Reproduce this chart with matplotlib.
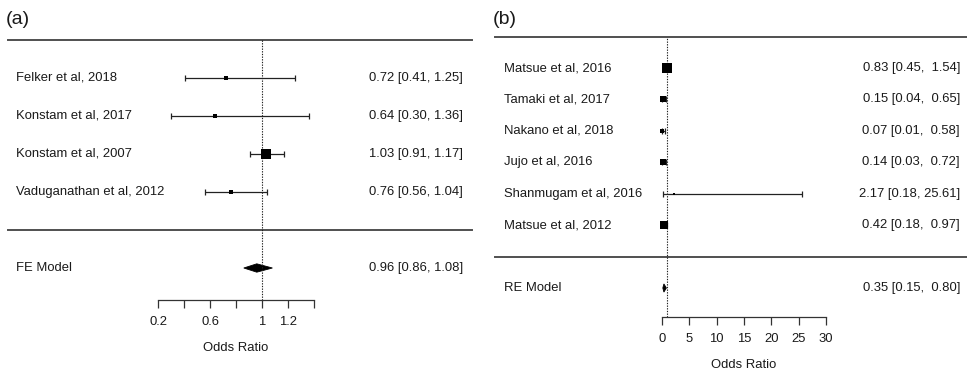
import matplotlib
matplotlib.use("Agg")
import matplotlib.pyplot as plt
from matplotlib.patches import Polygon
import matplotlib.transforms as mtransforms

plt.rcParams['font.family'] = ['Liberation Sans', 'DejaVu Sans']

# ---------------- data ----------------
a_studies = ["Felker et al, 2018", "Konstam et al, 2017", "Konstam et al, 2007",
             "Vaduganathan et al, 2012"]
a_est = [0.72, 0.64, 1.03, 0.76]
a_lo = [0.41, 0.30, 0.91, 0.56]
a_hi = [1.25, 1.36, 1.17, 1.04]
a_model = "FE Model"
a_model_est, a_model_lo, a_model_hi = 0.96, 0.86, 1.08
a_ticks = [0.2, 0.4, 0.6, 0.8, 1.0, 1.2, 1.4]
a_ticklabels = ["0.2", "", "0.6", "", "1", "1.2", ""]

b_studies = ["Matsue et al, 2016", "Tamaki et al, 2017", "Nakano et al, 2018",
             "Jujo et al, 2016", "Shanmugam et al, 2016", "Matsue et al, 2012"]
b_est = [0.83, 0.15, 0.07, 0.14, 2.17, 0.42]
b_lo = [0.45, 0.04, 0.01, 0.03, 0.18, 0.18]
b_hi = [1.54, 0.65, 0.58, 0.72, 25.61, 0.97]
b_model = "RE Model"
b_model_est, b_model_lo, b_model_hi = 0.35, 0.15, 0.80
b_ticks = [0, 5, 10, 15, 20, 25, 30]
b_ticklabels = ["0", "5", "10", "15", "20", "25", "30"]

# marker square sizes (px) ~ study weights
a_sizes = [3.6, 3.2, 9.5, 4.0]
b_sizes = [10, 5.5, 3.6, 5.5, 2.8, 8.5]

W, H = 967, 376
fig = plt.figure(figsize=(W / 100, H / 100), dpi=100)

FS = 9.4
TXT = '#1a1a1a'
LINEC = '#505050'


def fmt(e, l, h, pad):
    hs = f"{h:.2f}"
    hs = hs.rjust(pad)
    return f"{e:.2f} [{l:.2f}, {hs}]"


def panel(rect, xlim, ylim_bottom, studies, est, lo, hi, sizes, model, m_est, m_lo, m_hi,
          ticks, ticklabels, xlab_center, lab_x, txt_x, pad, diam_h, letter, letter_xy):
    ax = fig.add_axes(rect)
    k = len(studies)
    ax.set_xlim(*xlim)
    ax.set_ylim(ylim_bottom, k + 1)
    for s in ['top', 'right', 'left']:
        ax.spines[s].set_visible(False)
    ax.spines['bottom'].set_bounds(ticks[0], ticks[-1])
    ax.spines['bottom'].set_linewidth(0.9)
    ax.spines['bottom'].set_color('#333333')
    ax.set_xticks(ticks)
    ax.set_xticklabels(ticklabels)
    ax.tick_params(axis='x', direction='out', length=5.5, width=0.9, pad=6,
                   labelsize=FS, colors='#333333', labelcolor=TXT)
    ax.set_yticks([])
    ax.patch.set_alpha(0)

    blend = mtransforms.blended_transform_factory(ax.transAxes, ax.transData)

    # top and separator lines
    ax.axhline(k + 1, color=LINEC, lw=1.4, clip_on=False)
    ax.axhline(0, color=LINEC, lw=1.4, clip_on=False)
    # reference line
    ax.axvline(1, color='#222222', lw=0.8, ls=(0, (1.2, 1.2)))

    rows = list(range(k, 0, -1))
    for i, r in enumerate(rows):
        ax.errorbar([est[i]], [r], xerr=[[est[i] - lo[i]], [hi[i] - est[i]]],
                    fmt='none', ecolor='#222222', elinewidth=0.9, capsize=2.0,
                    capthick=0.9)
        ax.plot([est[i]], [r], marker='s', ms=sizes[i] * 0.72, color='black', mew=0)
        ax.text(lab_x, r, studies[i], transform=blend,
                ha='left', va='center', fontsize=FS, color=TXT)
        ax.text(txt_x, r, fmt(est[i], lo[i], hi[i], pad), transform=blend,
                ha='right', va='center', fontsize=FS, color=TXT)
    # model row
    ax.add_patch(Polygon([(m_lo, -1), (m_est, -1 + diam_h), (m_hi, -1), (m_est, -1 - diam_h)],
                         closed=True, facecolor='black', edgecolor='black', lw=0.6))
    ax.text(lab_x, -1, model, transform=blend,
            ha='left', va='center', fontsize=FS, color=TXT)
    ax.text(txt_x, -1, fmt(m_est, m_lo, m_hi, pad), transform=blend,
            ha='right', va='center', fontsize=FS, color=TXT)
    ax.annotate("Odds Ratio", xy=(xlab_center, 0),
                xycoords=mtransforms.blended_transform_factory(ax.transData, ax.transAxes),
                xytext=(0, -34.5), textcoords='offset points', ha='center', va='center',
                fontsize=FS, color=TXT)
    fig.text(letter_xy[0] / W, 1 - letter_xy[1] / H, letter, ha='left', va='center',
             fontsize=14, color=TXT)
    return ax


# panel (a): axes from x=8..472 px, rows: top line y=40 (row 5), axis y=300
a_px_per_row = 38.0
a_bottom_row = -1 - (300 - 268) / a_px_per_row
a_top_px, a_axis_px = 40, 300
xa0, xa1 = 8, 472
a_ppu = 130.0  # px per unit
a_xlim = (1 - (262 - xa0) / a_ppu, 1 + (xa1 - 262) / a_ppu)
panel([xa0 / W, 1 - a_axis_px / H, (xa1 - xa0) / W, (a_axis_px - a_top_px) / H],
      a_xlim, a_bottom_row, a_studies, a_est, a_lo, a_hi, a_sizes, a_model,
      a_model_est, a_model_lo, a_model_hi, a_ticks, a_ticklabels, 0.8,
      (16 - xa0) / (xa1 - xa0), (463 - xa0) / (xa1 - xa0), 4, 0.11, "(a)", (6, 19))

# panel (b): axes from x=495..967, top line y=36.6 (row 7), axis y=317
b_px_per_row = (256.5 - 36.6) / 7
b_bottom_row = -1 - (317 - 288) / b_px_per_row
xb0, xb1 = 495, 967
b_ppu = 164 / 30.0
b_xlim = (0 - (662 - xb0) / b_ppu, (xb1 - 662) / b_ppu)
panel([xb0 / W, 1 - 317 / H, (xb1 - xb0) / W, (317 - 36.6) / H],
      b_xlim, b_bottom_row, b_studies, b_est, b_lo, b_hi, b_sizes, b_model,
      b_model_est, b_model_lo, b_model_hi, b_ticks, b_ticklabels, 15,
      (504 - xb0) / (xb1 - xb0), (960 - xb0) / (xb1 - xb0), 5, 0.13, "(b)", (493, 19))

fig.savefig("out.png", dpi=100)
